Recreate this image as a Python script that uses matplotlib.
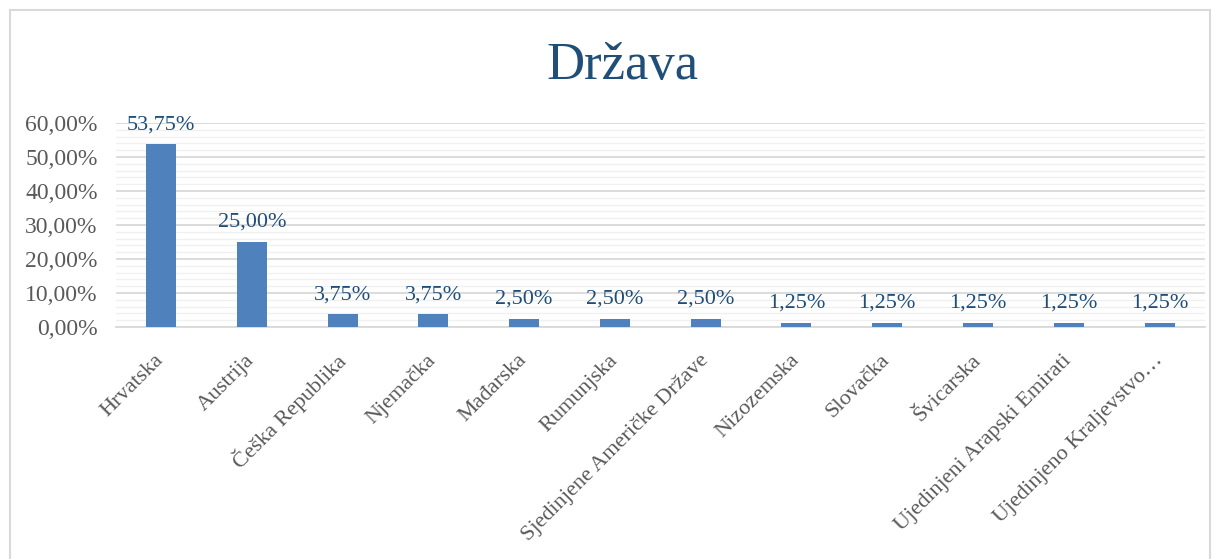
import matplotlib
matplotlib.use("Agg")
import matplotlib.pyplot as plt
from matplotlib.patches import Rectangle
from matplotlib.ticker import MultipleLocator, FuncFormatter

# data
countries = ["Hrvatska", "Austrija", "Češka Republika", "Njemačka", "Mađarska",
             "Rumunjska", "Sjedinjene Američke Države", "Nizozemska", "Slovačka",
             "Švicarska", "Ujedinjeni Arapski Emirati", "Ujedinjeno Kraljevstvo…"]
shares = [53.75, 25.00, 3.75, 3.75, 2.50, 2.50, 2.50, 1.25, 1.25, 1.25, 1.25, 1.25]

W, H = 1220, 559
fig = plt.figure(figsize=(W / 100, H / 100), dpi=100)
fig.patch.set_facecolor("white")

# outer chart frame
fig.patches.append(Rectangle((10 / W, -0.05), 1200 / W, 1.05 - 10 / H,
                             transform=fig.transFigure, fill=False,
                             edgecolor="#D9D9D9", linewidth=1.5))

ax = fig.add_axes([115.6 / W, 1 - 327 / H, (1205 - 115.6) / W, (327 - 123) / H])

x = range(len(countries))
bars = ax.bar(x, shares, width=0.33, color="#4F81BD", zorder=3)

ax.set_xlim(-0.5, len(countries) - 0.5)
ax.set_ylim(0, 60)
ax.yaxis.set_major_locator(MultipleLocator(10))
ax.yaxis.set_minor_locator(MultipleLocator(2))
ax.yaxis.set_major_formatter(FuncFormatter(lambda v, p: f"{v:.2f}%".replace(".", ",")))
ax.grid(axis="y", which="major", color="#D9D9D9", linewidth=1.3, zorder=0)
ax.grid(axis="y", which="minor", color="#F0F0F0", linewidth=1.0, zorder=0)

for s in ["top", "right", "left"]:
    ax.spines[s].set_visible(False)
ax.spines["bottom"].set_color("#D9D9D9")
ax.spines["bottom"].set_linewidth(1.3)

ax.tick_params(axis="both", which="both", length=0)
ax.tick_params(axis="y", labelsize=17, labelcolor="#595959", pad=13)
ax.tick_params(axis="x", labelsize=16, labelcolor="#595959", pad=22)
for lab in ax.get_yticklabels():
    lab.set_family("Liberation Serif")

ax.set_xticks(list(x))
ax.set_xticklabels(countries, rotation=45, ha="right", va="center",
                   rotation_mode="anchor", family="Liberation Serif")

for b, v in zip(bars, shares):
    ax.text(b.get_x() + b.get_width() / 2, v + 3.0, f"{v:.2f}%".replace(".", ","),
            ha="center", va="bottom", fontsize=16, color="#1F4E79",
            family="Liberation Serif")

fig.text(622 / W, 1 - 66 / H, "Država", ha="center", va="center", fontsize=38,
         color="#1F4E79", family="Liberation Serif")

fig.savefig("out.png", dpi=100)
